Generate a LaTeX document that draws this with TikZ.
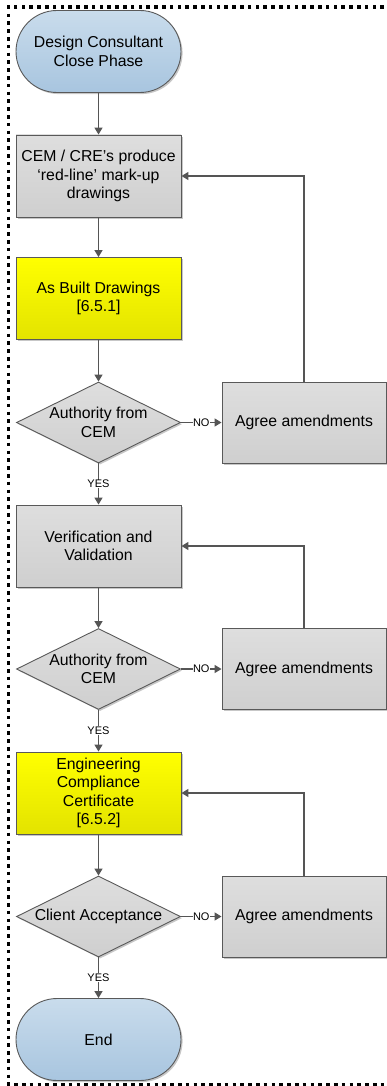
\documentclass[tikz,border=0pt]{standalone}
\usepackage{fontspec}
\setmainfont{Liberation Sans}
\usetikzlibrary{shapes.geometric,arrows.meta,shadows}

\definecolor{edge}{HTML}{595959}
\definecolor{wire}{HTML}{555555}
\definecolor{greyTop}{HTML}{DEDEDE}
\definecolor{greyBot}{HTML}{CFCFCF}
\definecolor{yelTop}{HTML}{FFFF00}
\definecolor{yelBot}{HTML}{E3E300}
\definecolor{bluTop}{HTML}{C9DCEC}
\definecolor{bluBot}{HTML}{A8C5DF}

\tikzset{
  base/.style={draw=edge, line width=0.9pt, align=center, inner sep=0pt,
    font=\fontsize{15.8}{18.5}\selectfont,
    drop shadow={shadow xshift=1.6pt, shadow yshift=-1.6pt, opacity=0.22, fill=black}},
  greybox/.style={base, rectangle, minimum width=165pt, minimum height=82pt,
    top color=greyTop, bottom color=greyBot},
  yellowbox/.style={base, rectangle, minimum width=165pt, minimum height=82pt,
    top color=yelTop, bottom color=yelBot},
  terminal/.style={base, rectangle, rounded corners=41pt, minimum width=165pt,
    minimum height=82pt, top color=bluTop, bottom color=bluBot},
  amendbox/.style={base, rectangle, minimum width=164pt, minimum height=81pt,
    top color=greyTop, bottom color=greyBot},
  decision/.style={base, diamond, minimum width=164pt, minimum height=81pt,
    top color=greyTop, bottom color=greyBot},
  dtext/.style={align=center, inner sep=0pt, font=\fontsize{15.8}{18.5}\selectfont},
  arr/.style={draw=wire, line width=1.4pt, -{Triangle[length=7pt,width=8pt]}},
  lbl/.style={fill=white, inner sep=0.4pt, text=black, font=\fontsize{11}{12}\selectfont},
  frame/.style={line width=3.6pt, dash pattern=on 3.6pt off 4.2pt}
}

\begin{document}
\begin{tikzpicture}[x=1pt, y=1pt]
  \useasboundingbox (0,0) rectangle (387,-1086);

  % outer dotted frame
  \draw[frame] (384,-7) -- (8.5,-7) -- (8.5,-1084.5) -- (384,-1084.5);

  % main column
  \node[terminal]  (start) at (98.5,-51.5)  {Design Consultant\\Close Phase};
  \node[greybox]   (redline) at (98.5,-176) {CEM / CRE’s produce\\‘red-line’ mark-up\\drawings};
  \node[yellowbox] (asbuilt) at (98.5,-298.5) {As Built Drawings\\{[}6.5.1{]}};
  \node[decision]  (auth1) at (98.5,-422.5) {};
  \node[dtext]     (auth1t) at (auth1) {Authority from\\CEM};
  \node[greybox]   (verify) at (98.5,-546) {Verification and\\Validation};
  \node[decision]  (auth2) at (98.5,-669) {};
  \node[dtext]     (auth2t) at (auth2) {Authority from\\CEM};
  \node[yellowbox] (cert) at (98.5,-793) {Engineering\\Compliance\\Certificate\\{[}6.5.2{]}};
  \node[decision]  (client) at (98.5,-916.5) {};
  \node[dtext]     (clientt) at (client) {Client Acceptance};
  \node[terminal]  (finish) at (98.5,-1039.5) {End};

  % amendment loops
  \node[amendbox]  (amend1) at (304,-422.5) {Agree amendments};
  \node[amendbox]  (amend2) at (304,-669)   {Agree amendments};
  \node[amendbox]  (amend3) at (304,-916.5) {Agree amendments};

  % flow
  \draw[arr] (start) -- (redline);
  \draw[arr] (redline) -- (asbuilt);
  \draw[arr] (asbuilt) -- (auth1);
  \draw[arr] (auth1.south) -- node[lbl] {YES} (verify.north);
  \draw[arr] (verify) -- (auth2);
  \draw[arr] (auth2.south) -- node[lbl] {YES} (cert.north);
  \draw[arr] (cert) -- (client);
  \draw[arr] (client.south) -- node[lbl] {YES} (finish.north);

  \draw[arr] (auth1.east) -- node[lbl] {NO} (amend1.west);
  \draw[arr] (auth2.east) -- node[lbl] {NO} (amend2.west);
  \draw[arr] (client.east) -- node[lbl] {NO} (amend3.west);

  \draw[arr] (amend1.north) |- (redline.east);
  \draw[arr] (amend2.north) |- (verify.east);
  \draw[arr] (amend3.north) |- (cert.east);
\end{tikzpicture}
\end{document}
